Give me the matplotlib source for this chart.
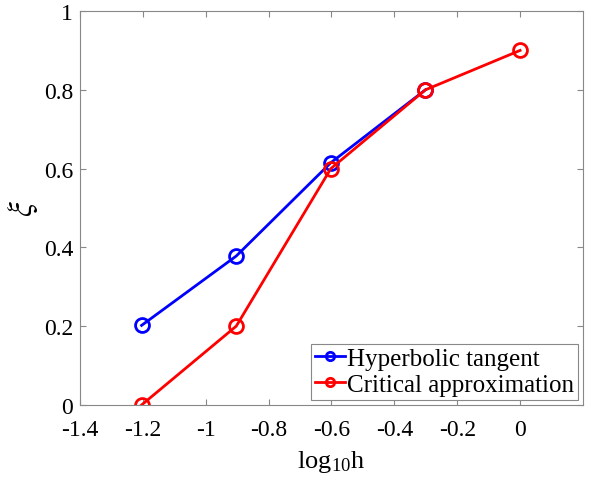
import numpy as np
import matplotlib
matplotlib.use('Agg')
import matplotlib.pyplot as plt

plt.rcParams['font.family'] = ['Liberation Serif', 'DejaVu Serif']
plt.rcParams['mathtext.fontset'] = 'stix'

# log10 of the step sizes 1/16 .. 1
log_h = np.log10([1/16., 1/8., 1/4., 1/2., 1.])

# shape parameter xi for the two methods
xi_tanh = [0.202, 0.378, 0.615, 0.80]
xi_crit = [0.0, 0.2, 0.6, 0.8, 0.9]

xticks = [-1.4, -1.2, -1.0, -0.8, -0.6, -0.4, -0.2, 0.0]
xtick_labels = ['-1.4', '-1.2', '-1', '-0.8', '-0.6', '-0.4', '-0.2', '0']
yticks = [0, 0.2, 0.4, 0.6, 0.8, 1.0]
ytick_labels = ['0', '0.2', '0.4', '0.6', '0.8', '1']

fig = plt.figure(figsize=(5.91, 4.81), dpi=100)
ax = fig.add_axes([0.1354, 0.156, 0.851, 0.819])

ax.plot(log_h[:len(xi_tanh)], xi_tanh, '-o', color='#0000ff', lw=2,
        ms=10, mfc='none', mew=2, label='Hyperbolic tangent')
ax.plot(log_h, xi_crit, '-o', color='#ff0000', lw=2,
        ms=10, mfc='none', mew=2, label='Critical approximation')

ax.set_xlim(-1.4, 0.2)
ax.set_ylim(0, 1)
ax.set_xticks(xticks)
ax.set_xticklabels(xtick_labels)
ax.set_yticks(yticks)
ax.set_yticklabels(ytick_labels)
ax.tick_params(direction='in', length=4, width=0.8, color='#888888',
               labelsize=17, top=True, right=True)
ax.tick_params(axis='x', pad=10)
ax.tick_params(axis='y', pad=5)
for sp in ax.spines.values():
    sp.set_color('#888888')
    sp.set_linewidth(0.8)

ax.set_xlabel(r'log$_{\mathregular{10}}$h', fontsize=19, labelpad=6)
ax.set_ylabel(r'$\xi$', fontsize=24, rotation=90, labelpad=3)

leg = ax.legend(loc='lower right', fontsize=18, handlelength=1.2,
                handletextpad=0.1, borderpad=0.15, labelspacing=0.15,
                borderaxespad=0.2, fancybox=False, framealpha=1,
                markerscale=0.6)
leg.get_frame().set_edgecolor('#888888')
leg.get_frame().set_linewidth(0.8)

fig.savefig('out.png', dpi=100)
